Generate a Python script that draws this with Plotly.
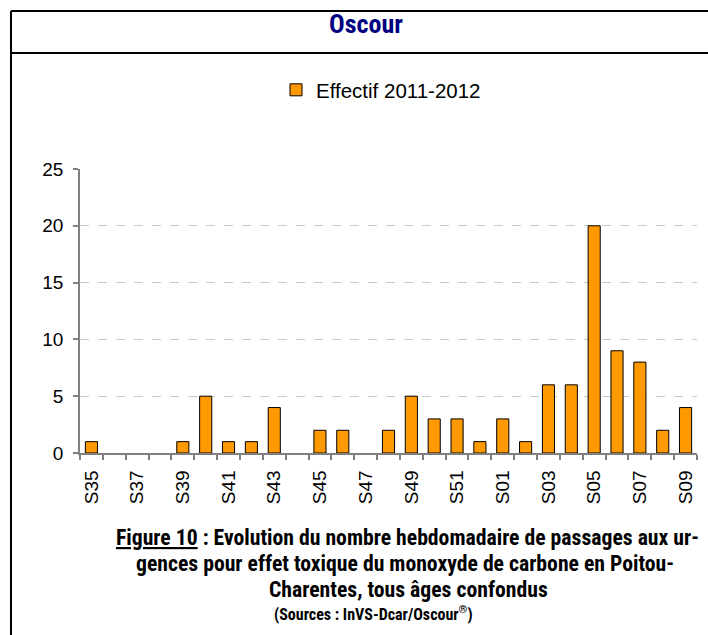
import plotly.graph_objects as go

# ---- data ----
weeks = ["S35", "S36", "S37", "S38", "S39", "S40", "S41", "S42", "S43", "S44",
         "S45", "S46", "S47", "S48", "S49", "S50", "S51", "S52",
         "S01", "S02", "S03", "S04", "S05", "S06", "S07", "S08", "S09"]
effectif = [1, 0, 0, 0, 1, 5, 1, 1, 4, 0,
            2, 2, 0, 2, 5, 3, 3, 1,
            3, 1, 6, 6, 20, 9, 8, 2, 4]
tick_labels = ["S35", "", "S37", "", "S39", "", "S41", "", "S43", "",
               "S45", "", "S47", "", "S49", "", "S51", "",
               "S01", "", "S03", "", "S05", "", "S07", "", "S09"]
series_name = "Effectif 2011-2012"
chart_title = "Oscour"
caption_lines = [
    "<span style='text-decoration:underline'>Figure 10</span> : Evolution du nombre hebdomadaire de passages aux ur-",
    "gences pour effet toxique du monoxyde de carbone en Poitou-",
    "Charentes, tous âges confondus",
]
source_line = "(Sources : InVS-Dcar/Oscour<sup>®</sup>)"

# ---- geometry (window pixels) ----
W, H = 708, 635
L, R, T, B = 80, 697, 169, 453   # plot area in window pixels


def px(x):
    return (x - L) / (R - L)


def py(y):
    return (B - y) / (B - T)


COND = "Liberation Sans Narrow, Roboto Condensed, DejaVu Sans Condensed, Arial Narrow, sans-serif"
REG = "Liberation Sans, Arial, sans-serif"

# zero weeks have no visible bar in the reference
bar_values = [v if v != 0 else None for v in effectif]

fig = go.Figure()
fig.add_trace(go.Bar(
    x=weeks, y=bar_values, name=series_name,
    marker=dict(color="#FF9900", line=dict(color="#000000", width=1)),
))

fig.update_layout(
    width=W, height=H,
    margin=dict(l=L, r=W - R, t=T, b=H - B, pad=0, autoexpand=False),
    paper_bgcolor="white", plot_bgcolor="white",
    bargap=0.47,
    showlegend=True,
    legend=dict(orientation="h", x=px(381), xanchor="center", y=py(90), yanchor="middle",
                font=dict(family=REG, size=20.5, color="black"), bgcolor="rgba(0,0,0,0)"),
    title=dict(text="<b>" + chart_title + "</b>", x=366 / W, xanchor="center", xref="container",
               y=1 - 24 / H, yanchor="middle", yref="container",
               font=dict(family=COND, size=26, color="#000080")),
    font=dict(family=REG, color="black"),
)

fig.update_xaxes(
    type="category", tickmode="array", tickvals=weeks, ticktext=tick_labels,
    tickson="boundaries", ticks="outside", ticklen=5, tickcolor="#808080", tickwidth=1.5,
    tickangle=-90, tickfont=dict(family=REG, size=19, color="black"), ticklabelstandoff=8,
    showline=True, linecolor="#808080", linewidth=1.5, automargin=False,
    showgrid=False, zeroline=False, range=[-0.5, len(weeks) - 0.5],
)
fig.update_yaxes(
    range=[0, 25], dtick=5, tick0=0,
    ticks="outside", ticklen=5, tickcolor="#808080", tickwidth=1.5,
    tickfont=dict(family=REG, size=19, color="black"), ticklabelstandoff=6,
    showline=True, linecolor="#808080", linewidth=1.5, automargin=False,
    showgrid=True, gridcolor="#C8C8C8", griddash="dash", gridwidth=1,
    zeroline=False,
)

# frame
frame = dict(type="line", xref="paper", yref="paper", line=dict(color="black", width=2), layer="above")
fig.add_shape(**frame, x0=px(11), x1=px(780), y0=py(11), y1=py(11))
fig.add_shape(**frame, x0=px(11), x1=px(780), y0=py(53), y1=py(53))
fig.add_shape(**frame, x0=px(11), x1=px(11), y0=py(11), y1=py(700))

# caption
cap_y = [537, 563, 589]
cap_x = [407, 405, 408]
for txt, yy, xx in zip(caption_lines, cap_y, cap_x):
    fig.add_annotation(text="<b>" + txt + "</b>", xref="paper", yref="paper",
                       x=px(xx), y=py(yy), xanchor="center", yanchor="middle", showarrow=False,
                       font=dict(family=COND, size=21.7, color="black"))
fig.add_annotation(text="<b>" + source_line + "</b>", xref="paper", yref="paper",
                   x=px(373), y=py(613), xanchor="center", yanchor="middle", showarrow=False,
                   font=dict(family=COND, size=16, color="black"))

fig.write_html(
    "out.html",
    config={"displayModeBar": False},
    post_script="document.body.style.margin='0';document.body.style.overflow='hidden';",
)
